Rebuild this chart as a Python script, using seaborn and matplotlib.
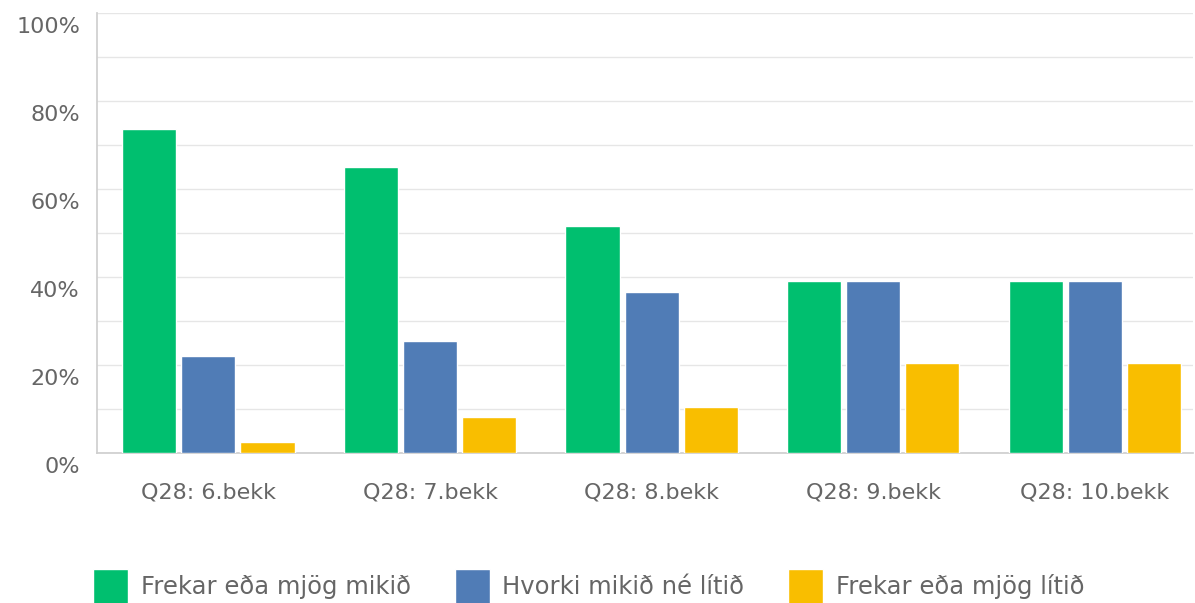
import matplotlib
matplotlib.use("Agg")
import matplotlib.pyplot as plt
import matplotlib.transforms as mtransforms
import seaborn as sns
import pandas as pd

categories = ["Q28: 6.bekk", "Q28: 7.bekk", "Q28: 8.bekk", "Q28: 9.bekk", "Q28: 10.bekk"]
series_names = ["Frekar eða mjög mikið", "Hvorki mikið né lítið", "Frekar eða mjög lítið"]
mikid = [73.6, 65.1, 51.7, 39.2, 39.2]
hvorki = [22.2, 25.6, 36.7, 39.2, 39.2]
litid = [2.6, 8.2, 10.6, 20.6, 20.6]
yticks = [0, 20, 40, 60, 80, 100]
ytick_labels = ["0%", "20%", "40%", "60%", "80%", "100%"]

colors = {series_names[0]: "#00BF6F", series_names[1]: "#507CB6", series_names[2]: "#F9BE00"}

rows = []
for name, vals in zip(series_names, [mikid, hvorki, litid]):
    for c, v in zip(categories, vals):
        rows.append({"cat": c, "resp": name, "val": v})
df = pd.DataFrame(rows)

sns.set_theme(style="white")
plt.rcParams["font.family"] = ["DejaVu Sans"]
text_color = "#666666"

W, H = 1195, 603
fig = plt.figure(figsize=(W / 100, H / 100), dpi=100)
ax = fig.add_axes([96.7 / W, 1 - 453.3 / H, (1193 - 96.7) / W, (453.3 - 13) / H])

sns.barplot(data=df, x="cat", y="val", hue="resp", hue_order=series_names,
            order=categories, palette=colors, width=0.8, gap=0.085,
            saturation=1, ax=ax, zorder=3)

ax.set_xlim(-0.504, 4.443)
ax.set_ylim(0, 100)
ax.set_yticks(yticks)
ax.set_yticklabels(ytick_labels)
ax.set_yticks(range(10, 100, 20), minor=True)
ax.grid(axis="y", which="both", color="#e6e6e6", linewidth=1, zorder=0)
ax.set_axisbelow(True)
ax.set_xlabel("")
ax.set_ylabel("")
for s in ["top", "right"]:
    ax.spines[s].set_visible(False)
ax.spines["left"].set_color("#cfcfcf")
ax.spines["bottom"].set_color("#cfcfcf")
ax.tick_params(axis="y", which="both", length=0, pad=12, labelsize=16, labelcolor=text_color)
ax.tick_params(axis="x", length=0, pad=21, labelsize=16, labelcolor=text_color)

off = mtransforms.ScaledTranslation(0, -0.12, fig.dpi_scale_trans)
for lab in ax.get_yticklabels():
    lab.set_transform(lab.get_transform() + off)

sns.move_legend(ax, "upper left", bbox_to_anchor=(93.3 / W, 1 - 569 / H),
                bbox_transform=fig.transFigure, ncol=3, frameon=False, title=None,
                fontsize=17.5, handlelength=1.44, handleheight=1.84, handletextpad=0.52,
                columnspacing=1.8, borderpad=0, borderaxespad=0)
for t in ax.get_legend().get_texts():
    t.set_color(text_color)

fig.savefig("out.png", dpi=100)
